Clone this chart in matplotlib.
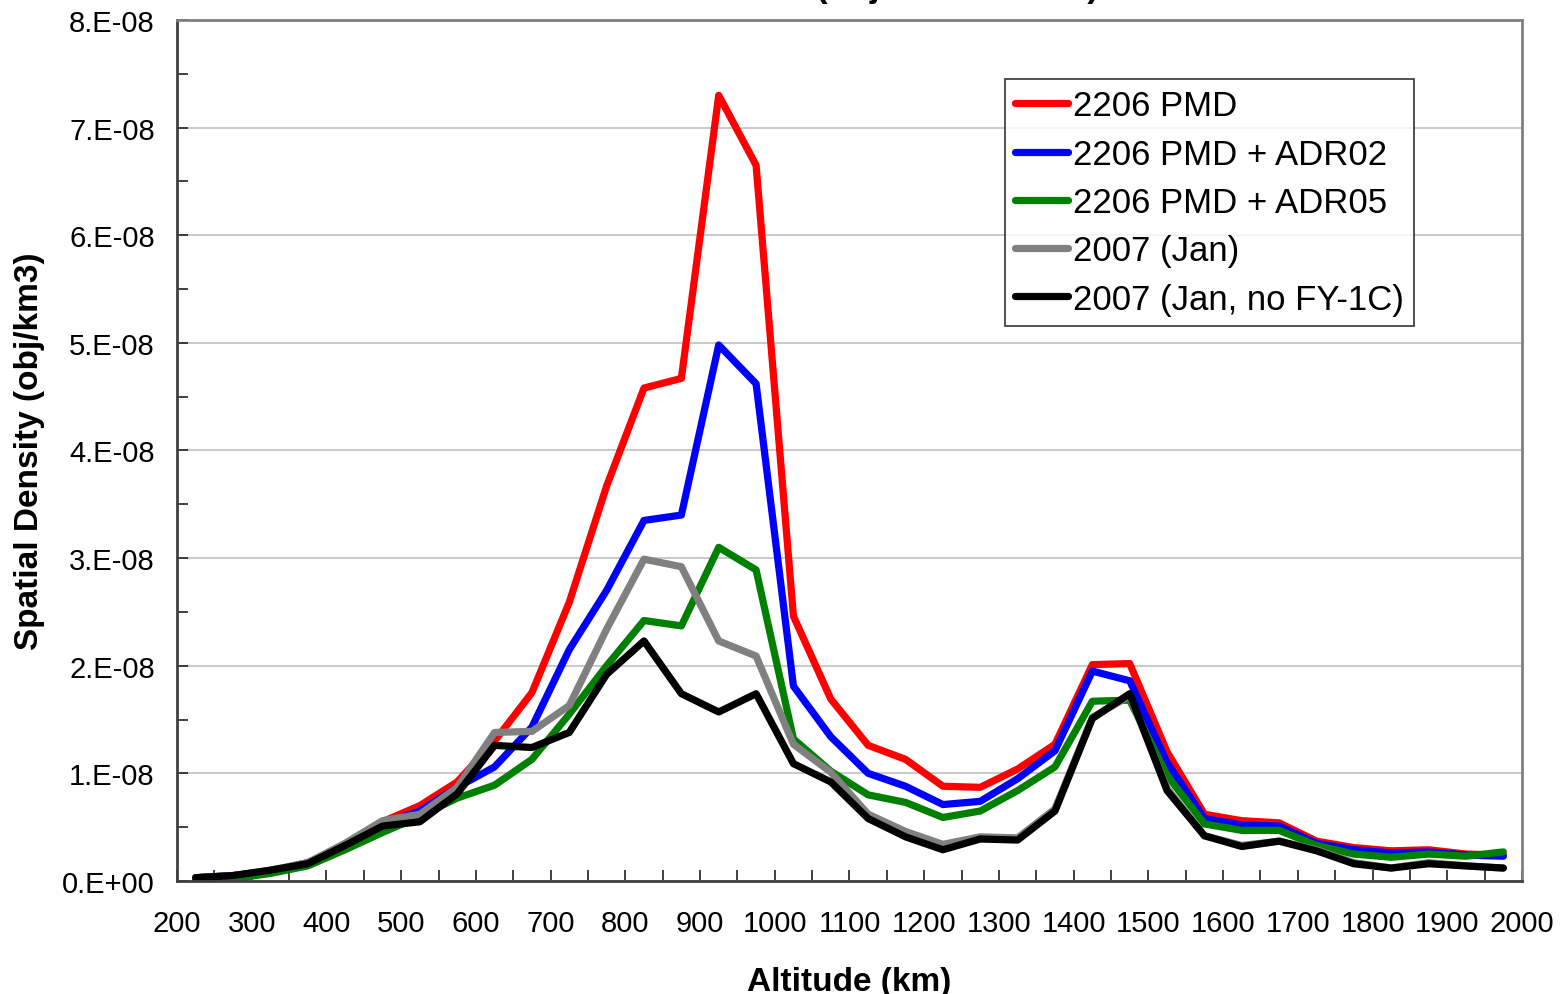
import numpy as np
import matplotlib
matplotlib.use('Agg')
import matplotlib.pyplot as plt
from matplotlib.ticker import MultipleLocator, FuncFormatter

plt.rcParams['font.family'] = ['Liberation Sans', 'DejaVu Sans']

# altitude bin centres (km)
altitude = list(range(225, 2000, 50))

# spatial density, in units of 1e-8 obj/km3
pmd_2206 = [0.03, 0.05, 0.09, 0.17, 0.32, 0.55, 0.70, 0.92, 1.30, 1.75, 2.59, 3.67,
            4.58, 4.67, 7.30, 6.65, 2.46, 1.69, 1.26, 1.13, 0.88, 0.87, 1.04, 1.27,
            2.01, 2.02, 1.20, 0.62, 0.56, 0.54, 0.37, 0.31, 0.28, 0.29, 0.25, 0.24]
pmd_adr02 = [0.03, 0.05, 0.09, 0.17, 0.32, 0.53, 0.65, 0.87, 1.06, 1.43, 2.15, 2.70,
             3.35, 3.40, 4.98, 4.62, 1.81, 1.34, 1.00, 0.88, 0.71, 0.74, 0.95, 1.21,
             1.95, 1.86, 1.10, 0.58, 0.52, 0.51, 0.35, 0.29, 0.26, 0.27, 0.24, 0.23]
pmd_adr05 = [0.01, 0.02, 0.07, 0.14, 0.29, 0.45, 0.60, 0.77, 0.89, 1.13, 1.55, 2.00,
             2.42, 2.37, 3.10, 2.89, 1.32, 1.02, 0.80, 0.73, 0.59, 0.65, 0.84, 1.06,
             1.67, 1.68, 0.98, 0.53, 0.47, 0.47, 0.33, 0.25, 0.22, 0.25, 0.23, 0.27]
jan_2007 = [0.03, 0.05, 0.10, 0.17, 0.35, 0.56, 0.62, 0.87, 1.38, 1.39, 1.63, 2.34,
            2.99, 2.92, 2.23, 2.09, 1.27, 1.01, 0.62, 0.46, 0.34, 0.41, 0.40, 0.67,
            1.52, 1.72, 0.86, 0.42, 0.33, 0.37, 0.29, 0.17, 0.12, 0.17, 0.14, 0.12]
jan_2007_nofy = [0.03, 0.05, 0.10, 0.16, 0.33, 0.51, 0.55, 0.81, 1.26, 1.24, 1.38, 1.92,
                 2.23, 1.74, 1.57, 1.74, 1.09, 0.92, 0.58, 0.41, 0.29, 0.39, 0.38, 0.65,
                 1.51, 1.74, 0.84, 0.42, 0.32, 0.37, 0.28, 0.16, 0.12, 0.16, 0.14, 0.12]

series = [('2206 PMD', pmd_2206, '#ff0000'),
          ('2206 PMD + ADR02', pmd_adr02, '#0000ff'),
          ('2206 PMD + ADR05', pmd_adr05, '#008000'),
          ('2007 (Jan)', jan_2007, '#808080'),
          ('2007 (Jan, no FY-1C)', jan_2007_nofy, '#000000')]

fig = plt.figure(figsize=(15.62, 9.95), dpi=100)
ax = fig.add_axes([0.1133, 0.1136, 0.8611, 0.8653])

for name, vals, col in series:
    ax.plot(altitude, np.array(vals) * 1e-8, color=col, lw=5.2, label=name,
            solid_capstyle='round', solid_joinstyle='round')

ax.set_xlim(200, 2000)
ax.set_ylim(0, 8e-8)
ax.xaxis.set_major_locator(MultipleLocator(100))
ax.xaxis.set_minor_locator(MultipleLocator(50))
ax.yaxis.set_major_locator(MultipleLocator(1e-8))
ax.yaxis.set_minor_locator(MultipleLocator(0.5e-8))

def fmt(v, pos):
    if abs(v) < 1e-12:
        return '0.E+00'
    return '%d.E-08' % round(v / 1e-8)

ax.yaxis.set_major_formatter(FuncFormatter(fmt))
ax.tick_params(which='both', direction='in', length=8, width=1.3, color='#303030')
ax.tick_params(axis='x', which='major', labelsize=21, pad=20)
ax.tick_params(axis='y', which='major', labelsize=21, pad=16)
ax.grid(axis='y', which='major', color='#c0c0c0', lw=1.2)
ax.set_axisbelow(True)

for s in ['left', 'bottom']:
    ax.spines[s].set_color('#404040')
    ax.spines[s].set_linewidth(2)
for s in ['top', 'right']:
    ax.spines[s].set_color('#808080')
    ax.spines[s].set_linewidth(2)

ax.set_xlabel('Altitude (km)', fontsize=24, fontweight='bold', labelpad=21)
ax.set_ylabel('Spatial Density (obj/km3)', fontsize=24, fontweight='bold', labelpad=12)

# title sits mostly above the canvas, only descenders show
fig.text(0.549, 1.003, 'LEO Debris (objects > 10 cm)', fontsize=25, fontweight='bold',
         ha='center', va='baseline')

leg = ax.legend(loc='upper left', bbox_to_anchor=(1005 / 1562, 1 - 80 / 995),
                bbox_transform=fig.transFigure, fontsize=25, frameon=True,
                fancybox=False, borderaxespad=0, handlelength=1.5, handletextpad=0.15,
                labelspacing=0.44, borderpad=0.3)
leg.get_frame().set_edgecolor('black')
leg.get_frame().set_linewidth(1.2)

fig.savefig('out.png', dpi=100)
